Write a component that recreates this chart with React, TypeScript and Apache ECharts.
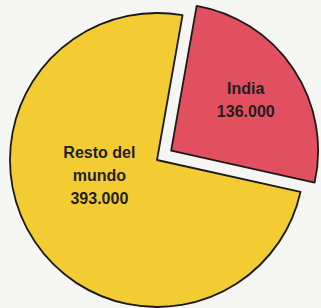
import React, { useEffect, useRef } from "react";
import * as echarts from "echarts";

const categories = ["India", "Resto del mundo"];
const values = [136000, 393000];
const valueLabels = ["136.000", "393.000"];
const labelTexts = ["India\n136.000", "Resto del\nmundo\n393.000"];
const colors = ["#E2505F", "#F3CC33"];

export default function App() {
  const ref = useRef<HTMLDivElement>(null);
  useEffect(() => {
    document.body.style.margin = "0";
    const chart = echarts.init(ref.current!, null, { renderer: "svg" });
    chart.setOption({
      animation: false,
      backgroundColor: "#F5F5F3",
      series: [
        {
          type: "pie",
          center: [157, 160],
          radius: [0, 147],
          startAngle: 80,
          clockwise: true,
          selectedMode: "multiple",
          selectedOffset: 17,
          avoidLabelOverlap: false,
          label: {
            show: true,
            position: "inside",
            color: "#1e1e1e",
            fontFamily: "Liberation Sans, Arial, sans-serif",
            fontWeight: "bold",
            fontSize: 16,
            lineHeight: 23,
            align: "center",
            formatter: (p: any) => labelTexts[p.dataIndex],
          },
          labelLayout: (p: any) =>
            p.dataIndex === 0 ? { dx: 11, dy: -8 } : { dx: 6, dy: -27 },
          itemStyle: { borderColor: "#1a1a1a", borderWidth: 1.8 },
          emphasis: { disabled: true },
          data: categories.map((c, i) => ({
            name: c,
            value: values[i],
            selected: i === 0,
            itemStyle: { color: colors[i] },
          })),
        },
      ],
    });
    return () => chart.dispose();
  }, []);
  return <div ref={ref} style={{ width: 321, height: 308 }} />;
}
